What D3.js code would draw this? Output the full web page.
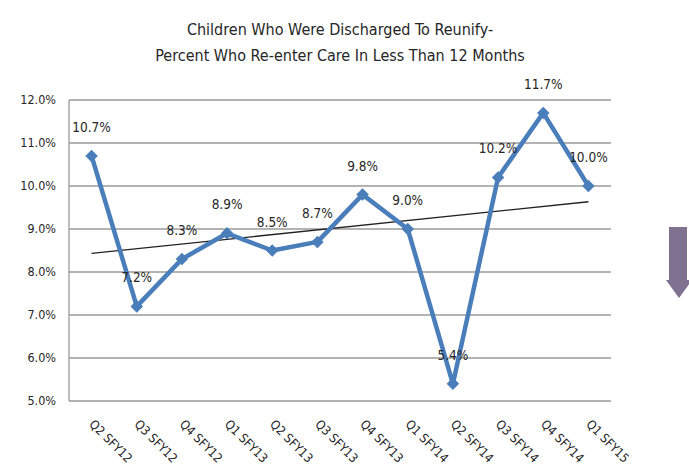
<!DOCTYPE html>
<html>
<head>
<meta charset="utf-8">
<script src="https://cdn.jsdelivr.net/npm/d3@7"></script>
<style>
body { margin: 0; background: #fff; }
text { font-family: "Liberation Sans Narrow", "DejaVu Sans Condensed", sans-serif; fill: #262626; }
</style>
</head>
<body>
<div id="chart"></div>
<script>
var w = 689, h = 474;

var quarters = ["Q2 SFY12", "Q3 SFY12", "Q4 SFY12", "Q1 SFY13", "Q2 SFY13", "Q3 SFY13",
	"Q4 SFY13", "Q1 SFY14", "Q2 SFY14", "Q3 SFY14", "Q4 SFY14", "Q1 SFY15"];
var reentry = [10.7, 7.2, 8.3, 8.9, 8.5, 8.7, 9.8, 9.0, 5.4, 10.2, 11.7, 10.0];
var yTicks = [5, 6, 7, 8, 9, 10, 11, 12];

var svg = d3.select("#chart").append("svg")
	.attr("width", w)
	.attr("height", h);

var x = d3.scaleBand()
	.domain(quarters)
	.range([69, 611]);

var y = d3.scaleLinear()
	.domain([5, 12])
	.range([401, 100]);

var cx = function (d) { return x(d) + x.bandwidth() / 2; };

// title
svg.append("text")
	.attr("x", 340).attr("y", 35)
	.attr("text-anchor", "middle")
	.style("font-size", "16px")
	.text("Children Who Were Discharged To Reunify-");
svg.append("text")
	.attr("x", 340).attr("y", 61)
	.attr("text-anchor", "middle")
	.style("font-size", "16px")
	.text("Percent Who Re-enter Care In Less Than 12 Months");

// gridlines
svg.selectAll(".grid")
	.data(yTicks)
	.enter()
	.append("line")
	.attr("x1", 69).attr("x2", 611)
	.attr("y1", function (d) { return y(d); })
	.attr("y2", function (d) { return y(d); })
	.style("stroke", "#9a9a9a")
	.style("stroke-width", "1.3px");

// left axis line
svg.append("line")
	.attr("x1", 69).attr("x2", 69)
	.attr("y1", y(12)).attr("y2", y(5))
	.style("stroke", "#9a9a9a")
	.style("stroke-width", "1.3px");

// y labels
svg.selectAll(".ylab")
	.data(yTicks)
	.enter()
	.append("text")
	.attr("x", 56)
	.attr("y", function (d) { return y(d) + 4; })
	.attr("text-anchor", "end")
	.style("font-size", "12.5px")
	.text(function (d) { return d.toFixed(1) + "%"; });

// x labels
svg.selectAll(".xlab")
	.data(quarters)
	.enter()
	.append("text")
	.attr("transform", function (d) { return "translate(" + (cx(d) - 3) + ",425) rotate(45)"; })
	.attr("text-anchor", "start")
	.style("font-size", "12.5px")
	.text(function (d) { return d; });

// linear trendline
var n = reentry.length;
var mx = d3.mean(reentry, function (d, i) { return i; });
var my = d3.mean(reentry);
var slope = d3.sum(reentry, function (d, i) { return (i - mx) * (d - my); }) /
	d3.sum(reentry, function (d, i) { return (i - mx) * (i - mx); });
var icpt = my - slope * mx;
svg.append("line")
	.attr("x1", cx(quarters[0])).attr("y1", y(icpt))
	.attr("x2", cx(quarters[n - 1])).attr("y2", y(icpt + slope * (n - 1)))
	.style("stroke", "#222")
	.style("stroke-width", "1.3px");

// series line
var line = d3.line()
	.x(function (d, i) { return cx(quarters[i]); })
	.y(function (d) { return y(d); });

svg.append("path")
	.datum(reentry)
	.attr("d", line)
	.style("fill", "none")
	.style("stroke", "#4a7ebb")
	.style("stroke-width", "4.5px")
	.style("stroke-linejoin", "round");

svg.selectAll(".pt")
	.data(reentry)
	.enter()
	.append("path")
	.attr("d", d3.symbol().type(d3.symbolDiamond2).size(100))
	.attr("transform", function (d, i) { return "translate(" + cx(quarters[i]) + "," + y(d) + ")"; })
	.style("fill", "#4a7ebb");

// data labels
svg.selectAll(".dl")
	.data(reentry)
	.enter()
	.append("text")
	.attr("x", function (d, i) { return cx(quarters[i]); })
	.attr("y", function (d) { return y(d) - 24; })
	.attr("text-anchor", "middle")
	.style("font-size", "13.5px")
	.text(function (d) { return d.toFixed(1) + "%"; });

// down arrow
svg.append("path")
	.attr("d", "M669,227 L687,227 L687,280 L692,280 L679,298 L666,280 L669,280 Z")
	.style("fill", "#7e7290");
</script>
</body>
</html>
